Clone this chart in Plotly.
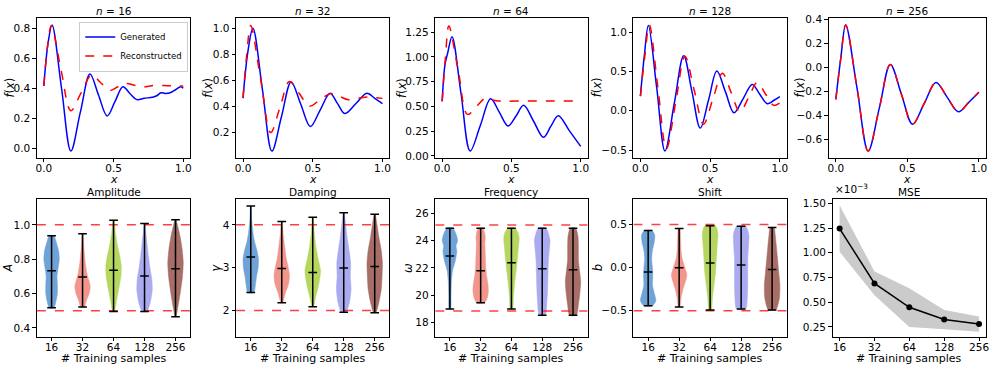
import math
import plotly.graph_objects as go

# ---- top row: generated vs reconstructed curves ----
n_titles = ['16', '32', '64', '128', '256']

gen_x = [
    [0.000, 0.030, 0.059, 0.127, 0.194, 0.262, 0.331, 0.392, 0.454, 0.510, 0.567, 0.617, 0.667,
     0.720, 0.780, 0.810, 0.840, 0.870, 0.900, 0.945, 0.980, 1.000],
    [0.000, 0.035, 0.071, 0.139, 0.207, 0.276, 0.345, 0.414, 0.483, 0.553, 0.624, 0.678, 0.731,
     0.810, 0.888, 0.945, 1.000],
    [0.000, 0.020, 0.040, 0.071, 0.136, 0.202, 0.276, 0.350, 0.413, 0.476, 0.532, 0.588, 0.660,
     0.731, 0.785, 0.838, 0.920, 1.000],
    [0.000, 0.028, 0.057, 0.117, 0.176, 0.243, 0.310, 0.370, 0.429, 0.489, 0.548, 0.610, 0.671,
     0.737, 0.802, 0.856, 0.910, 0.955, 1.000],
    [0.000, 0.035, 0.069, 0.148, 0.226, 0.304, 0.381, 0.459, 0.536, 0.618, 0.700, 0.779, 0.857,
     0.930, 1.000],
]
gen_y = [
    [0.415, 0.700, 0.824, 0.400, -0.020, 0.240, 0.495, 0.355, 0.215, 0.310, 0.410, 0.365, 0.324,
     0.333, 0.340, 0.350, 0.370, 0.365, 0.368, 0.390, 0.410, 0.400],
    [0.462, 0.820, 1.000, 0.530, 0.054, 0.320, 0.587, 0.415, 0.243, 0.370, 0.500, 0.420, 0.343,
     0.420, 0.500, 0.460, 0.419],
    [0.551, 0.920, 1.040, 1.204, 0.630, 0.050, 0.310, 0.577, 0.440, 0.303, 0.400, 0.511, 0.350,
     0.188, 0.300, 0.406, 0.250, 0.096],
    [0.186, 0.700, 1.083, 0.290, -0.512, 0.095, 0.700, 0.240, -0.221, 0.140, 0.506, 0.240, -0.026,
     0.155, 0.335, 0.210, 0.090, 0.130, 0.180],
    [-0.267, 0.080, 0.356, -0.170, -0.698, -0.340, 0.026, -0.225, -0.474, -0.300, -0.125, -0.250,
     -0.370, -0.290, -0.207],
]
rec_x = [
    [0.000, 0.028, 0.054, 0.124, 0.194, 0.268, 0.343, 0.408, 0.473, 0.532, 0.591, 0.650, 0.709,
     0.760, 0.800, 0.900, 1.000],
    [0.000, 0.027, 0.055, 0.126, 0.198, 0.265, 0.333, 0.405, 0.476, 0.553, 0.631, 0.693, 0.755,
     0.824, 0.893, 0.950, 1.000],
    [0.000, 0.024, 0.048, 0.115, 0.183, 0.249, 0.314, 0.380, 0.450, 0.600, 0.800, 1.000],
    [0.000, 0.032, 0.064, 0.125, 0.186, 0.253, 0.319, 0.386, 0.452, 0.520, 0.588, 0.651, 0.714,
     0.776, 0.838, 0.898, 0.957, 1.000],
    [0.000, 0.035, 0.069, 0.148, 0.226, 0.304, 0.381, 0.459, 0.536, 0.618, 0.700, 0.779, 0.857,
     0.930, 1.000],
]
rec_y = [
    [0.415, 0.690, 0.820, 0.520, 0.250, 0.370, 0.489, 0.437, 0.386, 0.410, 0.432, 0.420, 0.408,
     0.415, 0.420, 0.417, 0.415],
    [0.462, 0.800, 1.020, 0.610, 0.197, 0.390, 0.590, 0.495, 0.400, 0.450, 0.497, 0.475, 0.450,
     0.460, 0.470, 0.465, 0.460],
    [0.551, 1.000, 1.310, 0.870, 0.419, 0.500, 0.584, 0.560, 0.552, 0.555, 0.555, 0.555],
    [0.186, 0.700, 1.090, 0.300, -0.483, 0.105, 0.693, 0.260, -0.171, 0.150, 0.477, 0.230, -0.014,
     0.170, 0.360, 0.210, 0.069, 0.098],
    [-0.267, 0.080, 0.356, -0.170, -0.698, -0.340, 0.026, -0.225, -0.474, -0.300, -0.125, -0.250,
     -0.370, -0.290, -0.207],
]
top_ranges = [(-0.064, 0.872), (0.004, 1.081), (-0.017, 1.395), (-0.596, 1.183), (-0.753, 0.416)]
top_dticks = [0.2, 0.2, 0.25, 0.5, 0.2]
top_formats = ['.1f', '.1f', '.2f', '.1f', '.1f']

# ---- bottom row: violins of recovered parameters ----
samples = ['16', '32', '64', '128', '256']
violin_colors = ['#6fa3d8', '#f2968c', '#b5d65f', '#aaaaf0', '#a66e66']
param_titles = ['Amplitude', 'Damping', 'Frequency', 'Shift']
param_labels = ['<i>A</i>', '<i>γ</i>', '<i>ω</i>', '<i>b</i>']
true_bounds = [(0.5, 1.0), (2.0, 4.0), (6 * math.pi, 8 * math.pi), (-0.5, 0.5)]

# density profiles: (y levels, relative width) per violin
amp_y = [
    [0.517, 0.55, 0.60, 0.65, 0.70, 0.75, 0.80, 0.85, 0.90, 0.937],
    [0.522, 0.56, 0.60, 0.64, 0.68, 0.72, 0.78, 0.85, 0.90, 0.948],
    [0.495, 0.55, 0.62, 0.70, 0.76, 0.82, 0.88, 0.95, 1.027],
    [0.495, 0.55, 0.62, 0.68, 0.75, 0.82, 0.90, 0.96, 1.007],
    [0.465, 0.52, 0.60, 0.70, 0.78, 0.86, 0.93, 0.99, 1.030],
]
amp_w = [
    [0.30, 0.55, 0.75, 0.75, 0.70, 0.85, 1.00, 0.90, 0.60, 0.30],
    [0.25, 0.50, 0.85, 1.00, 0.80, 0.55, 0.35, 0.20, 0.12, 0.05],
    [0.10, 0.35, 0.65, 0.95, 1.00, 0.80, 0.50, 0.25, 0.05],
    [0.30, 0.75, 1.00, 0.95, 0.70, 0.50, 0.30, 0.15, 0.05],
    [0.05, 0.30, 0.60, 0.90, 1.00, 0.85, 0.60, 0.30, 0.05],
]
amp_mean = [0.733, 0.697, 0.735, 0.702, 0.745]

damp_y = [
    [2.42, 2.60, 2.80, 3.00, 3.20, 3.40, 3.60, 3.80, 4.10, 4.44],
    [2.18, 2.40, 2.60, 2.80, 3.00, 3.20, 3.40, 3.60, 3.85, 4.08],
    [2.09, 2.30, 2.55, 2.80, 2.95, 3.20, 3.50, 3.80, 4.18],
    [1.96, 2.20, 2.50, 2.80, 3.10, 3.40, 3.70, 4.00, 4.28],
    [1.95, 2.20, 2.50, 2.80, 3.10, 3.40, 3.70, 4.00, 4.25],
]
damp_w = [
    [0.40, 0.60, 0.75, 0.95, 1.00, 0.80, 0.50, 0.30, 0.12, 0.03],
    [0.10, 0.45, 0.85, 1.00, 0.85, 0.60, 0.45, 0.30, 0.15, 0.05],
    [0.10, 0.35, 0.70, 0.95, 1.00, 0.70, 0.40, 0.20, 0.03],
    [0.30, 0.75, 0.95, 0.85, 0.90, 0.70, 0.45, 0.25, 0.05],
    [0.15, 0.55, 0.85, 0.95, 1.00, 0.85, 0.55, 0.30, 0.05],
]
damp_mean = [3.25, 2.98, 2.89, 2.99, 3.03]

freq_y = [
    [19.0, 20.0, 21.0, 21.8, 22.5, 23.2, 23.6, 24.0, 24.4, 24.9],
    [19.45, 19.8, 20.3, 20.8, 21.5, 22.2, 23.0, 23.8, 24.3, 24.9],
    [19.0, 19.8, 20.5, 21.3, 22.0, 22.8, 23.5, 24.1, 24.5, 24.9],
    [18.55, 19.5, 20.5, 21.5, 22.5, 23.5, 24.1, 24.9],
    [18.55, 19.3, 20.2, 21.0, 21.8, 22.6, 23.5, 24.3, 24.9],
]
freq_w = [
    [0.10, 0.15, 0.20, 0.35, 0.70, 0.90, 0.80, 1.00, 0.85, 0.40],
    [0.50, 0.85, 1.00, 0.95, 0.75, 0.65, 0.60, 0.55, 0.60, 0.30],
    [0.15, 0.25, 0.35, 0.50, 0.65, 0.80, 0.90, 1.00, 0.90, 0.50],
    [0.40, 0.60, 0.70, 0.75, 0.80, 0.95, 1.00, 0.50],
    [0.45, 0.70, 0.90, 1.00, 0.85, 0.70, 0.70, 0.65, 0.35],
]
freq_mean = [22.87, 21.80, 22.38, 21.93, 21.87]

shift_y = [
    [-0.44, -0.38, -0.30, -0.20, -0.10, 0.00, 0.10, 0.20, 0.30, 0.38, 0.43],
    [-0.455, -0.35, -0.25, -0.15, -0.08, 0.00, 0.10, 0.20, 0.30, 0.455],
    [-0.49, -0.35, -0.20, -0.05, 0.10, 0.25, 0.40, 0.485],
    [-0.48, -0.35, -0.20, -0.05, 0.10, 0.25, 0.38, 0.48],
    [-0.49, -0.35, -0.20, -0.05, 0.10, 0.25, 0.38, 0.465],
]
shift_w = [
    [0.60, 1.00, 0.80, 0.55, 0.60, 0.55, 0.45, 0.55, 0.80, 0.85, 0.50],
    [0.10, 0.25, 0.50, 0.85, 1.00, 0.75, 0.40, 0.25, 0.20, 0.10],
    [0.15, 0.30, 0.50, 0.70, 0.80, 0.90, 1.00, 0.70],
    [0.60, 0.80, 0.85, 0.85, 0.85, 0.95, 1.00, 0.60],
    [0.50, 0.95, 1.00, 0.85, 0.70, 0.55, 0.40, 0.25],
]
shift_mean = [-0.05, 0.00, 0.055, 0.03, -0.02]

param_profiles = [(amp_y, amp_w, amp_mean), (damp_y, damp_w, damp_mean),
                  (freq_y, freq_w, freq_mean), (shift_y, shift_w, shift_mean)]
bottom_ranges = [(0.349, 1.152), (1.39, 4.61), (16.98, 27.05), (-0.80, 0.80)]
bottom_dticks = [0.2, 1, 2, 0.5]
bottom_formats = ['.1f', 'd', 'd', '.1f']

# ---- MSE (x1e-3) ----
mse_mean = [1.245, 0.690, 0.448, 0.325, 0.280]
mse_upper = [1.480, 0.810, 0.640, 0.420, 0.355]
mse_lower = [1.010, 0.570, 0.250, 0.225, 0.200]

FONT = 'DejaVu Sans'
W, H = 996, 371
cols_x = [(36, 190), (236, 390), (436, 589), (635, 789)]
top_y = (14, 157)
bot_y = (199, 340)
top_ylabel_px = [9, 207, 402, 598, 802]
bot_ylabel_px = [7, 216, 408, 599]

fig = go.Figure()
layout = {}
annotations = []


def ax_common():
    return dict(showline=True, mirror=True, linecolor='black', linewidth=1, ticks='outside',
                ticklen=3.5, tickwidth=1, tickcolor='black', showgrid=False, zeroline=False,
                tickfont=dict(size=10.5, color='black', family=FONT))


def x_common():
    d = ax_common()
    d.update(ticklabelstandoff=-3)
    return d


def add_text(text, px, py, size, angle=0, xanchor='center', yanchor='middle'):
    annotations.append(dict(text=text, x=px / W, y=1 - py / H, xref='paper', yref='paper',
                            xanchor=xanchor, yanchor=yanchor, textangle=angle, showarrow=False,
                            font=dict(size=size, family=FONT, color='black')))


# top row
top_cols = cols_x + [(831, 989)]
for i in range(5):
    k = i + 1
    xa, ya = ('x' if k == 1 else f'x{k}'), ('y' if k == 1 else f'y{k}')
    x0, x1 = top_cols[i]
    fig.add_trace(go.Scatter(x=gen_x[i], y=gen_y[i], mode='lines',
                             line=dict(color='blue', width=1.5, shape='spline', smoothing=1.0),
                             name='Generated', showlegend=(i == 0), xaxis=xa, yaxis=ya))
    fig.add_trace(go.Scatter(x=rec_x[i], y=rec_y[i], mode='lines',
                             line=dict(color='red', width=1.5, dash='dash', shape='spline', smoothing=1.0),
                             name='Reconstructed', showlegend=(i == 0), xaxis=xa, yaxis=ya))
    xd = x_common()
    xd.update(domain=[x0 / W, x1 / W], range=[-0.05, 1.05], tickvals=[0, 0.5, 1.0],
              ticktext=['0.0', '0.5', '1.0'], anchor=ya)
    yd = ax_common()
    yd.update(domain=[1 - top_y[1] / H, 1 - top_y[0] / H], range=list(top_ranges[i]), dtick=top_dticks[i],
              tickformat=top_formats[i], anchor=xa)
    layout['xaxis' if k == 1 else f'xaxis{k}'] = xd
    layout['yaxis' if k == 1 else f'yaxis{k}'] = yd
    add_text(f'<i>n</i> = {n_titles[i]}', (x0 + x1) / 2, 7, 10.5)
    add_text('<i>x</i>', (x0 + x1) / 2, 179, 11)
    add_text('<i>f</i>(<i>x</i>)', top_ylabel_px[i], (top_y[0] + top_y[1]) / 2, 11.5, angle=-90)

# bottom row violins
positions = [1, 2, 3, 4, 5]
for i in range(4):
    k = i + 6
    xa, ya = f'x{k}', f'y{k}'
    x0, x1 = cols_x[i]
    ys_all, ws_all, means = param_profiles[i]
    for j, pos in enumerate(positions):
        ys, ws = ys_all[j], ws_all[j]
        px = [pos + 0.25 * w for w in ws] + [pos - 0.25 * w for w in ws[::-1]] + [pos + 0.25 * ws[0]]
        py = ys + ys[::-1] + [ys[0]]
        fig.add_trace(go.Scatter(x=px, y=py, mode='lines', fill='toself', fillcolor=violin_colors[j],
                                 line=dict(color=violin_colors[j], width=0.5, shape='spline', smoothing=0.6),
                                 showlegend=False, xaxis=xa, yaxis=ya, hoverinfo='skip'))
    lo, hi = true_bounds[i]
    for b in (lo, hi):
        fig.add_trace(go.Scatter(x=[0.525, 5.475], y=[b, b], mode='lines',
                                 line=dict(color='rgba(255,0,0,0.75)', width=1.5, dash='dash'),
                                 showlegend=False, xaxis=xa, yaxis=ya, hoverinfo='skip'))
    lx, ly = [], []
    for j, pos in enumerate(positions):
        ymin, ymax, ymean = ys_all[j][0], ys_all[j][-1], means[j]
        lx += [pos, pos, None]
        ly += [ymin, ymax, None]
        for v in (ymin, ymax, ymean):
            lx += [pos - 0.14, pos + 0.14, None]
            ly += [v, v, None]
    fig.add_trace(go.Scatter(x=lx, y=ly, mode='lines', line=dict(color='black', width=1.5),
                             showlegend=False, xaxis=xa, yaxis=ya, hoverinfo='skip'))
    xd = x_common()
    xd.update(domain=[x0 / W, x1 / W], range=[0.525, 5.475], tickvals=positions, ticktext=samples, anchor=ya)
    yd = ax_common()
    yd.update(domain=[1 - bot_y[1] / H, 1 - bot_y[0] / H], range=list(bottom_ranges[i]), dtick=bottom_dticks[i],
              tickformat=bottom_formats[i], anchor=xa)
    layout[f'xaxis{k}'] = xd
    layout[f'yaxis{k}'] = yd
    add_text(param_titles[i], (x0 + x1) / 2, 192, 10.5)
    add_text('# Training samples', (x0 + x1) / 2, 362, 11)
    add_text(param_labels[i], bot_ylabel_px[i], (bot_y[0] + bot_y[1]) / 2, 11.5, angle=-90)

# MSE panel
mse_pos = [0, 1, 2, 3, 4]
fig.add_trace(go.Scatter(x=mse_pos + mse_pos[::-1], y=mse_upper + mse_lower[::-1], fill='toself',
                         fillcolor='#cbcbcb', line=dict(width=0), mode='lines',
                         showlegend=False, xaxis='x10', yaxis='y10', hoverinfo='skip'))
fig.add_trace(go.Scatter(x=mse_pos, y=mse_mean, mode='lines+markers', line=dict(color='black', width=1.5),
                         marker=dict(color='black', size=6), showlegend=False, xaxis='x10', yaxis='y10'))
x0, x1 = 835, 989
xd = x_common()
xd.update(domain=[x0 / W, x1 / W], range=[-0.2, 4.2], tickvals=mse_pos, ticktext=samples, anchor='y10')
yd = ax_common()
yd.update(domain=[1 - bot_y[1] / H, 1 - bot_y[0] / H], range=[0.151, 1.547], dtick=0.25,
          tickformat='.2f', anchor='x10')
layout['xaxis10'] = xd
layout['yaxis10'] = yd
add_text('MSE', (x0 + x1) / 2, 192, 10.5)
add_text('# Training samples', (x0 + x1) / 2, 362, 11)
add_text('×10<sup>−3</sup>', x0, 197, 10.5, xanchor='left', yanchor='bottom')

fig.update_layout(
    width=W, height=H, margin=dict(l=0, r=0, t=0, b=0),
    paper_bgcolor='white', plot_bgcolor='white',
    font=dict(family=FONT, color='black'),
    legend=dict(x=188 / W, y=1 - 18 / H, xanchor='right', yanchor='top', bgcolor='rgba(255,255,255,0.8)',
                bordercolor='#cccccc', borderwidth=1, font=dict(size=8.5, family=FONT), tracegroupgap=0,
                itemwidth=30),
    annotations=annotations,
    **layout,
)

fig.write_html('out.html', config={'displayModeBar': False},
               post_script="document.body.style.margin='0';")
